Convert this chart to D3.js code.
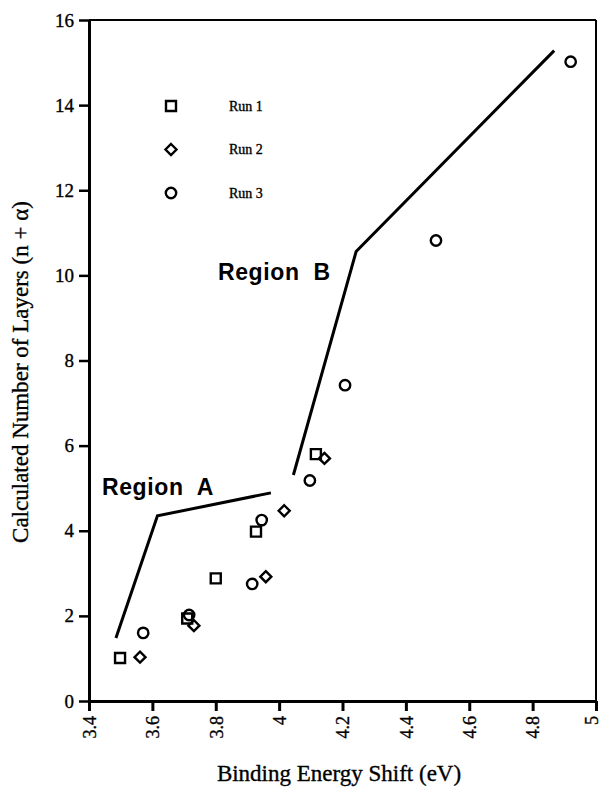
<!DOCTYPE html>
<html>
<head>
<meta charset="utf-8">
<script src="https://cdn.jsdelivr.net/npm/d3@7"></script>
<style>
  body { margin: 0; background: #fff; }
  svg text { fill: #000; }
</style>
</head>
<body>
<div id="chart"></div>
<script>
'use strict';

// ---------------------------------------------------------------------------
// data

var run1 = [
  { x: 3.498, y: 1.01 },
  { x: 3.710, y: 1.94 },
  { x: 3.800, y: 2.88 },
  { x: 3.927, y: 3.98 },
  { x: 4.116, y: 5.80 }
];
var run2 = [
  { x: 3.561, y: 1.03 },
  { x: 3.731, y: 1.77 },
  { x: 3.958, y: 2.92 },
  { x: 4.016, y: 4.47 },
  { x: 4.143, y: 5.70 }
];
var run3 = [
  { x: 3.571, y: 1.60 },
  { x: 3.716, y: 2.02 },
  { x: 3.915, y: 2.75 },
  { x: 3.945, y: 4.25 },
  { x: 4.097, y: 5.18 },
  { x: 4.208, y: 7.42 },
  { x: 4.495, y: 10.82 },
  { x: 4.920, y: 15.02 }
];
var regionA = [
  { x: 3.485, y: 1.48 },
  { x: 3.616, y: 4.35 },
  { x: 3.974, y: 4.89 }
];
var regionB = [
  { x: 4.045, y: 5.31 },
  { x: 4.243, y: 10.56 },
  { x: 4.868, y: 15.28 }
];
var xTicks = [3.4, 3.6, 3.8, 4, 4.2, 4.4, 4.6, 4.8, 5];
var yTicks = [0, 2, 4, 6, 8, 10, 12, 14, 16];
var legendLabels = ['Run 1', 'Run 2', 'Run 3'];

// ---------------------------------------------------------------------------

var width = 603, height = 789;
var margin = { left: 89, right: 7, top: 20, bottom: 88 };

var svg = d3.select('#chart').append('svg')
  .attr('width', width)
  .attr('height', height);

var x = d3.scaleLinear()
  .domain([3.4, 5])
  .range([margin.left, width - margin.right]);
var y = d3.scaleLinear()
  .domain([0, 16])
  .range([height - margin.bottom, margin.top]);

var serif = '"Liberation Serif", "Times New Roman", serif';
var sans = '"Liberation Sans", Arial, sans-serif';

// scanned print looks heavy, thicken the serif glyphs a little
function inked(sel) {
  return sel.attr('stroke', '#000').attr('stroke-width', 0.35);
}

// frame: top and right thinner
svg.append('line')
  .attr('x1', x(3.4)).attr('y1', y(16))
  .attr('x2', x(5)).attr('y2', y(16))
  .attr('stroke', '#000').attr('stroke-width', 2);
svg.append('line')
  .attr('x1', x(5)).attr('y1', y(16))
  .attr('x2', x(5)).attr('y2', y(0))
  .attr('stroke', '#000').attr('stroke-width', 2);

var xAxis = svg.append('g')
  .attr('transform', 'translate(0,' + y(0) + ')')
  .call(d3.axisBottom(x).tickValues(xTicks).tickSize(10).tickSizeOuter(0)
    .tickFormat(function(d) { return String(d); }));
xAxis.select('.domain').attr('stroke-width', 3);
xAxis.selectAll('.tick line').attr('stroke-width', 3);
xAxis.selectAll('.tick text')
  .attr('font-family', serif)
  .attr('font-size', 18)
  .attr('fill', '#000')
  .attr('transform', 'rotate(-90)')
  .attr('text-anchor', 'end')
  .attr('x', -15)
  .attr('y', 0)
  .attr('dy', function(d) { return d === 5 ? '0.1em' : '0.35em'; })
  .call(inked);

var yAxis = svg.append('g')
  .attr('transform', 'translate(' + x(3.4) + ',0)')
  .call(d3.axisLeft(y).tickValues(yTicks).tickSize(10).tickSizeOuter(0));
yAxis.select('.domain').attr('stroke-width', 3);
yAxis.selectAll('.tick line').attr('stroke-width', 2.5);
yAxis.selectAll('.tick text')
  .attr('font-family', serif)
  .attr('font-size', 19)
  .attr('fill', '#000')
  .attr('x', -15)
  .call(inked);

// axis titles
svg.append('text')
  .attr('x', 339)
  .attr('y', 781)
  .attr('text-anchor', 'middle')
  .attr('font-family', serif)
  .attr('font-size', 23)
  .text('Binding Energy Shift (eV)')
  .call(inked);
svg.append('text')
  .attr('transform', 'translate(28,372) rotate(-90)')
  .attr('text-anchor', 'middle')
  .attr('font-family', serif)
  .attr('font-size', 23)
  .text('Calculated Number of Layers (n + \u03B1)')
  .call(inked);

// region lines
var line = d3.line()
  .x(function(d) { return x(d.x); })
  .y(function(d) { return y(d.y); });
[regionA, regionB].forEach(function(seg) {
  svg.append('path')
    .datum(seg)
    .attr('d', line)
    .attr('fill', 'none')
    .attr('stroke', '#000')
    .attr('stroke-width', 3)
    .attr('stroke-linejoin', 'miter');
});

svg.append('text')
  .attr('x', 102).attr('y', 495)
  .attr('font-family', sans).attr('font-weight', 'bold')
  .attr('font-size', 23)
  .attr('letter-spacing', 0.6)
  .style('white-space', 'pre')
  .text('Region  A');
svg.append('text')
  .attr('x', 218).attr('y', 280)
  .attr('font-family', sans).attr('font-weight', 'bold')
  .attr('font-size', 23)
  .attr('letter-spacing', 0.6)
  .style('white-space', 'pre')
  .text('Region  B');

// markers
var symbols = [d3.symbolSquare, d3.symbolDiamond, d3.symbolCircle];
var symbolSizes = [100, 70, 85];
var markerPath = function(i) {
  return d3.symbol().type(symbols[i]).size(symbolSizes[i])();
};
var diamondPath = function() {
  return 'M0,-5.5L5.5,0L0,5.5L-5.5,0Z';
};

function drawRun(data, i) {
  svg.append('g').selectAll('path')
    .data(data)
    .enter().append('path')
    .attr('d', i === 1 ? diamondPath() : markerPath(i))
    .attr('transform', function(d) { return 'translate(' + x(d.x) + ',' + y(d.y) + ')'; })
    .attr('fill', 'none')
    .attr('stroke', '#000')
    .attr('stroke-width', 2.4);
}
drawRun(run1, 0);
drawRun(run2, 1);
drawRun(run3, 2);

// legend
var legend = svg.append('g').attr('transform', 'translate(171,106)');
var item = legend.selectAll('g')
  .data(legendLabels)
  .enter().append('g')
  .attr('transform', function(d, i) { return 'translate(0,' + (i * 43.5) + ')'; });
item.append('path')
  .attr('d', function(d, i) { return i === 1 ? diamondPath() : markerPath(i); })
  .attr('fill', 'none')
  .attr('stroke', '#000')
  .attr('stroke-width', 2.4);
item.append('text')
  .attr('x', 58)
  .attr('dy', '0.35em')
  .attr('font-family', serif)
  .attr('font-size', 14)
  .text(function(d) { return d; })
  .call(inked);
</script>
</body>
</html>
